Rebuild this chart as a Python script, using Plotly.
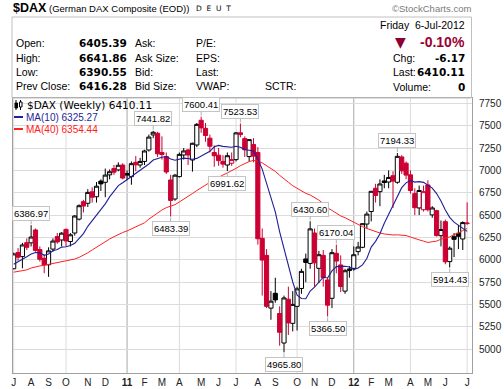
import pandas as pd
import plotly.graph_objects as go

# ---------------- data ----------------
first_week = "2010-07-09"  # week-ending Friday of the first candle

opens = [5900, 6082, 6036, 6192, 6190, 6334, 6115, 6017, 5945, 6120,
         6260, 6222, 6340, 6205, 6300, 6455, 6650, 6632, 6760, 6705,
         6880, 6867, 6950, 7020, 7005, 7060, 6965, 6930, 7090, 7060,
         7100, 7228, 7396, 7415, 7200, 7154, 6893, 6680, 6930, 7172,
         7228, 7116, 7284, 7560, 7470, 7360, 7200, 7170, 7100, 7060,
         7080, 7120, 7420, 7355, 7154, 7290, 7200, 6240, 6050, 5460,
         5626, 5400, 5070, 5560, 5290, 5480, 5680, 6010, 5960, 6300,
         5905, 6050, 5775, 5570, 6073, 5943, 5650, 5880, 5905, 6092,
         6140, 6400, 6540, 6800, 6762, 6882, 6870, 6940, 6867, 7150,
         7080, 6950, 6740, 6580, 6560, 6837, 6502, 6550, 6270, 6427,
         5980, 6259, 6297, 6233, 6405.39]
highs = [6080, 6130, 6190, 6240, 6386.97, 6350, 6150, 6060, 6140, 6240,
         6300, 6310, 6350, 6300, 6500, 6620, 6670, 6790, 6810, 6870,
         6900, 7020, 7010, 7060, 7090, 7080, 7000, 7100, 7160, 7140,
         7230, 7400, 7441.82, 7430, 7380, 7200, 6950, 6960, 7200, 7250,
         7240, 7310, 7530, 7600.41, 7530, 7400, 7280, 7250, 7170, 7200,
         7200, 7430, 7523.53, 7380, 7350, 7360, 7260, 6350, 6120, 5650,
         5800, 5480, 5600, 5700, 5650, 5700, 5900, 6070, 6430.60, 6350,
         6100, 6110, 5800, 6120, 6170.04, 6050, 5900, 5930, 6150, 6200,
         6410, 6540, 6770, 6850, 6900, 6950, 7000, 6990, 7194.33, 7170,
         7100, 7000, 6800, 6830, 6830, 6890, 6600, 6560, 6440, 6450,
         6150, 6300, 6390, 6430, 6641.86]
lows = [5895, 5990, 5905, 6110, 6150, 6090, 5980, 5850, 5810, 6090,
        6180, 6150, 6150, 6150, 6270, 6440, 6530, 6590, 6640, 6640,
        6770, 6700, 6900, 6950, 6990, 6900, 6890, 6840, 6990, 7030,
        7060, 7210, 7360, 7150, 7120, 6960, 6483.39, 6660, 6920, 7120,
        7060, 6986, 7260, 7420, 7320, 7200, 7040, 7050, 7030, 6991.62,
        7050, 7100, 7370, 7150, 7100, 7090, 6170, 5600, 5460, 5330,
        5520, 5040, 4965.80, 5160, 5200, 5210, 5620, 5750, 5900, 5700,
        5740, 5700, 5366.50, 5460, 5850, 5640, 5620, 5800, 5880, 6050,
        6130, 6350, 6430, 6640, 6600, 6800, 6800, 6580, 6850, 6960,
        6900, 6740, 6500, 6500, 6540, 6540, 6470, 6260, 6150, 5950,
        5914.43, 6030, 6120, 6110, 6390.55]
closes = [6066, 6030, 6166, 6140, 6255, 6105, 6006, 5942, 6100, 6210,
          6200, 6298, 6211, 6280, 6490, 6605, 6601, 6754, 6700, 6823,
          6849, 6947, 6985, 6980, 7057, 6914, 6947, 7075, 7062, 7100,
          7217, 7372, 7426, 7185, 7178, 6982, 6664, 6946, 7179, 7217,
          7172, 7303, 7514, 7475, 7390, 7270, 7163, 7109, 7070, 7164,
          7121, 7419, 7400, 7230, 7344, 7159, 6236, 5997, 5480, 5538,
          5552, 5190, 5574, 5295, 5502, 5675, 5871, 5971, 6346, 5966,
          6057, 5800, 5493, 6080, 5986, 5702, 5878, 5898, 6057, 6143,
          6404, 6511, 6766, 6720, 6848, 6864, 6921, 6880, 7157, 6995,
          6947, 6775, 6583, 6775, 6762, 6561, 6580, 6271, 6339, 5978,
          6130, 6229, 6263, 6416.28, 6410.11]

# weekly closes of the 39 weeks before the first candle (for the moving averages)
prior_closes = [5711, 5860, 5736, 5415, 5488, 5687, 5663, 5685, 5817, 5709,
                5831, 5957, 5957, 6037, 5875, 5696, 5608, 5434, 5501, 5723,
                5598, 5877, 5945, 5982, 6120, 6236, 6250, 6180, 6259, 6136,
                5716, 5946, 5829, 5947, 5939, 6049, 6216, 5963, 5835]

month_labels = ["J", "A", "S", "O", "N", "D", "<b>11</b>", "F", "M", "A", "M", "J",
                "J", "A", "S", "O", "N", "D", "<b>12</b>", "F", "M", "A", "M", "J", "J"]
y_ticks = [5000, 5250, 5500, 5750, 6000, 6250, 6500, 6750, 7000, 7250, 7500, 7750]

high_label_idx = [4, 32, 43, 52, 68, 74, 88]
low_label_idx = [36, 49, 62, 72, 100]

ma_short, ma_long = 10, 40
legend_main = "$DAX (Weekly) 6410.11"
legend_ma10 = "MA(10) 6325.27"
legend_ma40 = "MA(40) 6354.44"

quote_rows = [("Open:", "6405.39", "Ask:", "P/E:"),
              ("High:", "6641.86", "Ask Size:", "EPS:"),
              ("Low:", "6390.55", "Bid:", "Last:"),
              ("Prev Close:", "6416.28", "Bid Size:", "VWAP:")]
right_rows = [("Chg:", "-6.17"), ("Last:", "6410.11"), ("Volume:", "0")]

# ---------------- derived ----------------
dates = pd.date_range(first_week, periods=len(closes), freq="7D")
full = pd.Series(prior_closes + closes)
n = len(closes)
ma10 = full.rolling(ma_short).mean().iloc[-n:].values
ma40 = full.rolling(ma_long).mean().iloc[-n:].values
prev = [prior_closes[-1]] + closes[:-1]

RED = "#CC0033"
NAVY = "#1F1F99"
MARED = "#FF2020"

black_idx = [i for i in range(n) if closes[i] >= prev[i]]
red_idx = [i for i in range(n) if closes[i] < prev[i]]

fig = go.Figure()


def candle_trace(idx, col):
    return go.Candlestick(
        x=[dates[i] for i in idx],
        open=[opens[i] for i in idx], high=[highs[i] for i in idx],
        low=[lows[i] for i in idx], close=[closes[i] for i in idx],
        increasing=dict(fillcolor="white", line=dict(color=col, width=1)),
        decreasing=dict(fillcolor=col, line=dict(color=col, width=1)),
        whiskerwidth=0, showlegend=False, hoverinfo="skip")


fig.add_trace(go.Scatter(x=dates, y=ma40, mode="lines",
                         line=dict(color=MARED, width=1), hoverinfo="skip"))
fig.add_trace(go.Scatter(x=dates, y=ma10, mode="lines",
                         line=dict(color=NAVY, width=1.1), hoverinfo="skip"))
fig.add_trace(candle_trace(black_idx, "black"))
fig.add_trace(candle_trace(red_idx, RED))

# month ticks: first candle of every month
month_first = []
seen = set()
for d in dates:
    key = (d.year, d.month)
    if key not in seen:
        seen.add(key)
        month_first.append(d)

# ---------------- geometry helpers (pixels -> paper) ----------------
L, R, T, B = 13, 32, 98, 16
W, H = 504, 389
pw, ph = W - L - R, H - T - B


def px(x):
    return (x - L) / pw


def py(y):
    return (H - B - y) / ph


shapes = []
# quarterly vertical grid lines
for d in month_first:
    if d.month in (1, 4, 7, 10):
        col = "#A8A8A8" if d.month == 1 else "#DCDCDC"
        shapes.append(dict(type="line", xref="x", yref="paper", x0=d, x1=d, y0=0, y1=1,
                           line=dict(color=col, width=1), layer="below"))
# header frame
shapes.append(dict(type="rect", xref="paper", yref="paper", x0=px(12), x1=px(471.5),
                   y0=py(98), y1=py(17), line=dict(color="#C0C0C0", width=1)))
# legend dashes
shapes.append(dict(type="line", xref="paper", yref="paper", x0=px(14), x1=px(23),
                   y0=py(117), y1=py(117), line=dict(color=NAVY, width=2)))
shapes.append(dict(type="line", xref="paper", yref="paper", x0=px(14), x1=px(23),
                   y0=py(129), y1=py(129), line=dict(color=MARED, width=2)))
# little candle icon
shapes.append(dict(type="line", xref="paper", yref="paper", x0=px(16), x1=px(16),
                   y0=py(110), y1=py(100), line=dict(color="black", width=1)))
shapes.append(dict(type="rect", xref="paper", yref="paper", x0=px(15), x1=px(17.5),
                   y0=py(108), y1=py(103), line=dict(color="black", width=1), fillcolor="black"))
shapes.append(dict(type="line", xref="paper", yref="paper", x0=px(20.5), x1=px(20.5),
                   y0=py(110), y1=py(100), line=dict(color="black", width=1)))
shapes.append(dict(type="rect", xref="paper", yref="paper", x0=px(19.5), x1=px(22),
                   y0=py(107), y1=py(102), line=dict(color="black", width=1), fillcolor="white"))

ann = []
LS = "Liberation Sans"
DJ = "DejaVu Sans"


def text(x, y, s, size=10.5, family=LS, color="black", anchor="left"):
    ann.append(dict(xref="paper", yref="paper", x=px(x), y=py(y), text=s, showarrow=False,
                    xanchor=anchor, yanchor="middle",
                    font=dict(size=size, family=family, color=color)))


# title line
text(11, 8, "<b>$DAX</b>", size=12.5)
text(47, 8.5, "(German DAX Composite (EOD))", size=9.5)
text(194, 9, "D\u00a0\u00a0E\u00a0\u00a0U\u00a0\u00a0T", size=7.5, family=DJ)
text(472.5, 9, "\u00a9StockCharts.com", size=9.5, color="#7a7a7a", anchor="right")

# quote table
row_y = [42.7, 57.5, 72, 86.3]
for (a, v, b, c), yy in zip(quote_rows, row_y):
    text(14, yy, a)
    text(128.5, yy, "<b>" + v + "</b>", size=10.5, family=DJ, anchor="right")
    text(133, yy, b)
    text(194, yy, c)
text(263, 86.3, "SCTR:")

text(466.5, 25.5, "Friday\u00a0\u00a06-Jul-2012", anchor="right")
text(400.5, 42.5, "\u25BC", size=14, family=DJ, color="#8B0030", anchor="center")
text(466.5, 42, "<b>-0.10%</b>", size=14, color="#990033", anchor="right")
for (lab, val), yy in zip(right_rows, [58, 72, 87]):
    text(391, yy, lab)
    text(466.5, yy, "<b>" + val + "</b>", size=10.5, family=DJ, anchor="right")

# chart legend
text(25, 105, legend_main, size=10.5, family=DJ)
text(23.5, 117, legend_ma10, size=10, color=NAVY)
text(23.5, 129, legend_ma40, size=10, color=MARED)

# high / low call-outs
for i in high_label_idx:
    ann.append(dict(x=dates[i], y=highs[i], xref="x", yref="y", text=f"{highs[i]:.2f}",
                    showarrow=True, arrowhead=0, arrowwidth=1, arrowcolor="#B0B0B0",
                    ax=0, ay=-12, standoff=1, bgcolor="white", bordercolor="#C4C4C4",
                    borderwidth=1, borderpad=1, font=dict(size=9.5, family=LS, color="black")))
for i in low_label_idx:
    ann.append(dict(x=dates[i], y=lows[i], xref="x", yref="y", text=f"{lows[i]:.2f}",
                    showarrow=True, arrowhead=0, arrowwidth=1, arrowcolor="#B0B0B0",
                    ax=0, ay=12, standoff=1, bgcolor="white", bordercolor="#C4C4C4",
                    borderwidth=1, borderpad=1, font=dict(size=9.5, family=LS, color="black")))

day = pd.Timedelta(days=1)
x0 = dates[0] - 1.1 * day
x1 = x0 + pd.Timedelta(days=pw / (4.36 / 7))

fig.update_layout(
    width=W, height=H, margin=dict(l=L, r=R, t=T, b=B),
    paper_bgcolor="white", plot_bgcolor="white", showlegend=False,
    boxgap=0.05, boxgroupgap=0.0,
    shapes=shapes, annotations=ann,
    xaxis=dict(type="date", range=[x0, x1], rangeslider=dict(visible=False),
               tickvals=month_first, ticktext=month_labels, showgrid=False,
               showline=True, mirror=True, linecolor="#A0A0A0", linewidth=1,
               ticks="", tickfont=dict(size=10, family=LS, color="#222"), automargin=False,
               zeroline=False),
    yaxis=dict(side="right", range=[4735, 7809], tickvals=y_ticks,
               showgrid=True, gridcolor="#DCDCDC", gridwidth=1,
               showline=True, mirror=True, linecolor="#A0A0A0", linewidth=1,
               ticks="", ticklabelstandoff=4, zeroline=False,
               tickfont=dict(size=10, family=LS, color="#222"), automargin=False),
)

fig.write_html("out.html", config={"displayModeBar": False},
               post_script="document.body.style.margin='0px';document.body.style.overflow='hidden';")
